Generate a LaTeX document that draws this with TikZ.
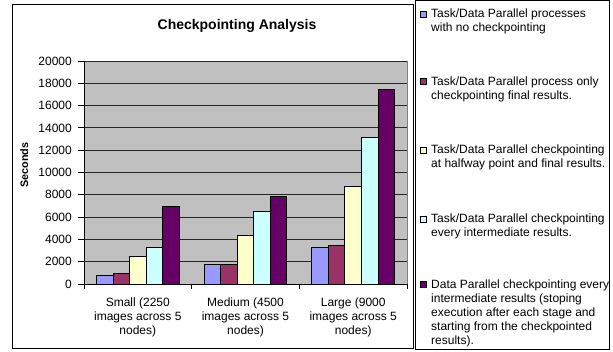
\documentclass[tikz,border=0pt]{standalone}
\usepackage{fontspec}
\setmainfont{Liberation Sans}
\definecolor{cA}{HTML}{9999FF}
\definecolor{cB}{HTML}{993366}
\definecolor{cC}{HTML}{FFFFCC}
\definecolor{cD}{HTML}{CCFFFF}
\definecolor{cE}{HTML}{660066}
\definecolor{plotbg}{HTML}{C0C0C0}
\begin{document}
\begin{tikzpicture}[x=1pt,y=-1pt,
  lbl/.style={font=\fontsize{12}{14}\selectfont, inner sep=0pt},
  ttl/.style={font=\fontsize{14}{16}\selectfont\bfseries, inner sep=0pt},
  axttl/.style={font=\fontsize{10.8}{13}\selectfont\bfseries, inner sep=0pt},
  frame/.style={draw=black, line width=1pt},
  grid line/.style={draw=black!85, line width=0.8pt},
  bar/.style={draw=black, line width=0.8pt},
  swatch/.style={draw=black, line width=0.6pt}]
\useasboundingbox (0,0) rectangle (613,352);
\fill[white] (0,0) rectangle (613,352);
% frames
\draw[frame] (12,4.5) rectangle (413,349);
\draw[frame] (415,1) rectangle (609,349.5);
% plot area
\fill[plotbg] (84,61) rectangle (407,284);
\draw[gray, line width=0.8pt] (84,61) rectangle (407,284);
\foreach \k in {1,...,10} {
  \draw[grid line] (84,{284-\k*22.3}) -- (407,{284-\k*22.3});
}
% bars (values in hundreds of seconds)
\foreach \cat [count=\ci from 0] in {{7.8/cA,9.6/cB,24.5/cC,32.9/cD,70.0/cE},{17.3/cA,17.3/cB,43.9/cC,65.5/cD,78.9/cE},{32.9/cA,34.3/cB,87.6/cC,131.2/cD,174.6/cE}} {
  \foreach \v/\col [count=\bi from 0] in \cat {
    \pgfmathsetmacro\xl{84+\ci*107.667+12.4+\bi*16.56}
    \draw[bar, fill=\col] (\xl,284) rectangle ({\xl+16.56},{284-\v*1.115});
  }
}
% axes
\draw[black, line width=0.8pt] (84,61) -- (84,284) -- (407,284);
\foreach \k in {0,...,10} {
  \draw[black, line width=0.8pt] (78,{284-\k*22.3}) -- (84,{284-\k*22.3});
}
\foreach \xx in {84,191.667,299.333,407} {
  \draw[black, line width=0.8pt] (\xx,284) -- (\xx,289);
}
% tick labels
\node[lbl, anchor=east] (t0) at (72,284) {0};
\node[lbl, anchor=east] (t1) at (72,261.7) {2000};
\node[lbl, anchor=east] (t2) at (72,239.4) {4000};
\node[lbl, anchor=east] (t3) at (72,217.1) {6000};
\node[lbl, anchor=east] (t4) at (72,194.8) {8000};
\node[lbl, anchor=east] (t5) at (72,172.5) {10000};
\node[lbl, anchor=east] (t6) at (72,150.2) {12000};
\node[lbl, anchor=east] (t7) at (72,127.9) {14000};
\node[lbl, anchor=east] (t8) at (72,105.6) {16000};
\node[lbl, anchor=east] (t9) at (72,83.3) {18000};
\node[lbl, anchor=east] (t10) at (72,61) {20000};
% titles
\node[ttl, anchor=base] (title) at (237,29.5) {Checkpointing Analysis};
\node[axttl, rotate=90, anchor=base] (ytitle) at (28,165) {Seconds};
% category labels
\node[lbl, anchor=base] (c1) at (137.8,306.5) {\parbox[t]{110pt}{\centering Small (2250\\images across 5\\nodes)}};
\node[lbl, anchor=base] (c2) at (245.5,306.5) {\parbox[t]{110pt}{\centering Medium (4500\\images across 5\\nodes)}};
\node[lbl, anchor=base] (c3) at (353.2,306.5) {\parbox[t]{110pt}{\centering Large (9000\\images across 5\\nodes)}};
% legend
\draw[swatch, fill=cA] (420.5,11.3) rectangle (426.5,17.3);
\draw[swatch, fill=cB] (420.5,78.3) rectangle (426.5,84.3);
\draw[swatch, fill=cC] (420.5,147) rectangle (426.5,153);
\draw[swatch, fill=cD] (420.5,216) rectangle (426.5,222);
\draw[swatch, fill=cE] (420.5,281.5) rectangle (426.5,287.5);
\node[lbl, anchor=base west] (l1) at (431,17.7) {\parbox[t]{178pt}{\raggedright Task/Data Parallel processes\\with no checkpointing}};
\node[lbl, anchor=base west] (l2) at (431,85.2) {\parbox[t]{178pt}{\raggedright Task/Data Parallel process only\\checkpointing final results.}};
\node[lbl, anchor=base west] (l3) at (431,153.5) {\parbox[t]{178pt}{\raggedright Task/Data Parallel checkpointing\\at halfway point and final results.}};
\node[lbl, anchor=base west] (l4) at (431,222.8) {\parbox[t]{178pt}{\raggedright Task/Data Parallel checkpointing\\every intermediate results.}};
\node[lbl, anchor=base west] (l5) at (431,288.3) {\parbox[t]{178pt}{\raggedright Data Parallel checkpointing every\\intermediate results (stoping\\execution after each stage and\\starting from the checkpointed\\results).}};
\end{tikzpicture}
\end{document}
